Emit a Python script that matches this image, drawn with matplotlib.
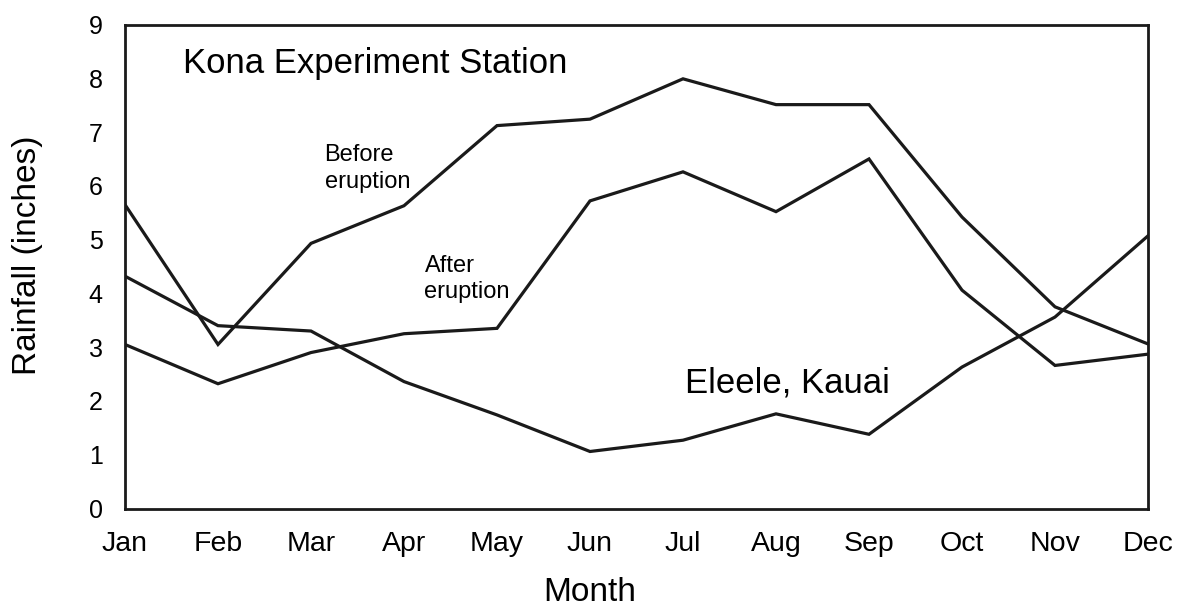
import matplotlib
matplotlib.use('Agg')
import matplotlib.pyplot as plt

months = ['Jan', 'Feb', 'Mar', 'Apr', 'May', 'Jun', 'Jul', 'Aug', 'Sep', 'Oct', 'Nov', 'Dec']
# Kona Experiment Station
kona_before = [5.65, 3.05, 4.93, 5.63, 7.12, 7.24, 7.99, 7.51, 7.51, 5.42, 3.75, 3.06]
kona_after = [3.05, 2.32, 2.9, 3.25, 3.35, 5.72, 6.26, 5.52, 6.5, 4.06, 2.66, 2.87]
# Eleele, Kauai
eleele = [4.32, 3.4, 3.3, 2.36, 1.74, 1.06, 1.27, 1.76, 1.38, 2.63, 3.56, 5.07]

plt.rcParams['font.family'] = ['Liberation Sans', 'DejaVu Sans']

W, H = 1179, 611
fig = plt.figure(figsize=(W / 100, H / 100), dpi=100)
# axes box in pixels: left 125, right 1148, top 24.5, bottom 508.5
ax = fig.add_axes([125 / W, 1 - 508.5 / H, (1148 - 125) / W, (508.5 - 24.5) / H])

x = list(range(len(months)))
for s in [kona_before, kona_after, eleele]:
    ax.plot(x, s, color='#1a1a1a', lw=2.3, solid_joinstyle='miter')

ax.set_xlim(0, 11)
ax.set_ylim(0, 9)
ax.set_xticks(x)
ax.set_xticklabels(months)
ax.set_yticks(range(10))
ax.tick_params(axis='x', length=0, pad=16, labelsize=20.5)
ax.tick_params(axis='y', length=0, pad=16, labelsize=18)
for sp in ax.spines.values():
    sp.set_linewidth(2)
    sp.set_color('#1a1a1a')

# axis titles placed where the original has them
fig.text(590 / W, 1 - 601 / H, 'Month', fontsize=24, ha='center', va='baseline')
fig.text(27.5 / W, 1 - 255 / H, 'Rainfall (inches)', fontsize=24, rotation=90,
         ha='center', va='center')

ax.text(0.627, 8.10, 'Kona Experiment Station', fontsize=25, va='baseline', ha='left')
ax.text(2.146, 6.32, 'Before\neruption', fontsize=17, va='center', ha='left', linespacing=1.25)
ax.text(3.22, 4.27, 'After\neruption', fontsize=17, va='center', ha='left', linespacing=1.25)
ax.text(6.02, 2.16, 'Eleele, Kauai', fontsize=25, va='baseline', ha='left')

fig.savefig('out.png', dpi=100)
